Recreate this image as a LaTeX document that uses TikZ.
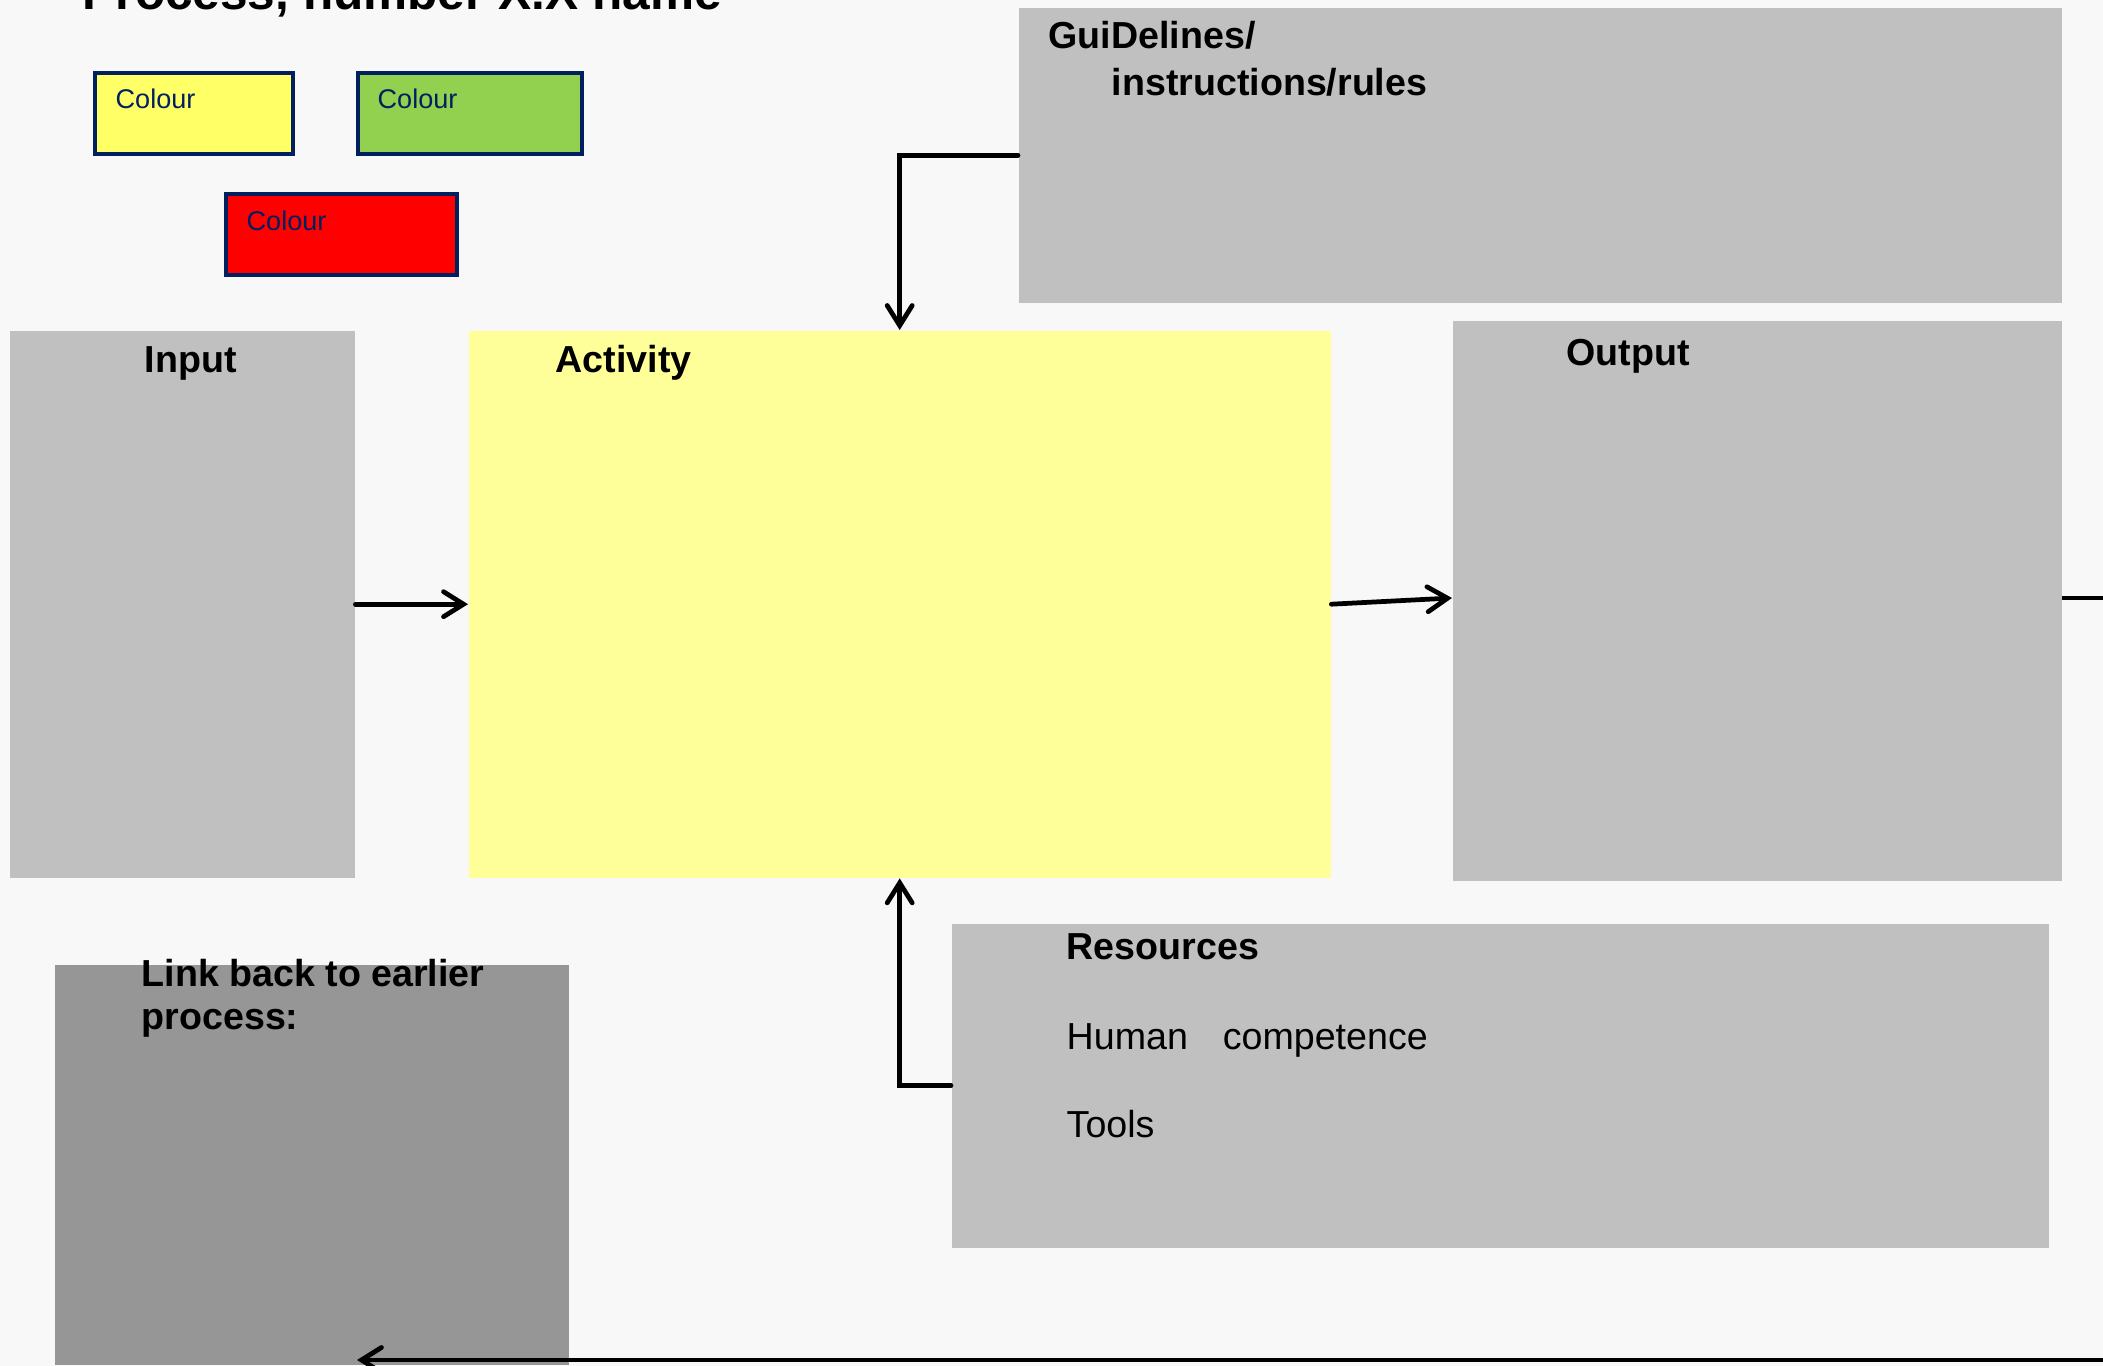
\documentclass[tikz,border=0pt]{standalone}
\usepackage{fontspec}
\setmainfont{Liberation Sans}
\usetikzlibrary{arrows.meta}

\definecolor{pagebg}{RGB}{248,248,248}
\definecolor{boxgray}{RGB}{192,192,192}
\definecolor{linkgray}{RGB}{150,150,150}
\definecolor{actyellow}{RGB}{255,255,153}
\definecolor{keyyellow}{RGB}{255,255,102}
\definecolor{keygreen}{RGB}{146,208,80}
\definecolor{keyred}{RGB}{255,0,0}
\definecolor{navy}{RGB}{0,32,96}

\begin{document}
\begin{tikzpicture}[
    box/.style={anchor=north west, inner sep=0pt, fill=boxgray},
    keybox/.style={anchor=north west, inner sep=0pt, draw=navy, line width=1.2pt, minimum width=#1, minimum height=0.81cm},
    lbl/.style={anchor=base west, inner sep=0pt, font=\fontsize{10.7}{12.8}\selectfont\bfseries},
    txt/.style={anchor=base west, inner sep=0pt, font=\fontsize{10.7}{12.8}\selectfont},
    keytxt/.style={anchor=base west, inner sep=0pt, text=navy, font=\fontsize{7.7}{9.2}\selectfont},
    flow/.style={line width=1.35pt, line cap=round, -{Straight Barb[length=2mm,width=2.5mm,line cap=round]}},
    link/.style={line width=1.35pt}]

    \useasboundingbox (0,0) rectangle (21.03,-13.66);
    \fill [pagebg] (0,0) rectangle (21.03,-13.66);

    \node[lbl, font=\fontsize{14.1}{16.9}\selectfont\bfseries] (title) at (0.82,-0.10) {Process, number X.X name};

    \node[keybox=1.98cm, fill=keyyellow] (keyyellow) at (0.93,-0.71) {};
    \node[keybox=2.24cm, fill=keygreen] (keygreen) at (3.56,-0.71) {};
    \node[keybox=2.31cm, fill=keyred] (keyred) at (2.24,-1.92) {};
    \node[keytxt] (keyyellowtxt) at (1.15,-1.09) {Colour};
    \node[keytxt] (keygreentxt) at (3.77,-1.09) {Colour};
    \node[keytxt] (keyredtxt) at (2.46,-2.31) {Colour};

    \node[box, minimum width=10.43cm, minimum height=2.95cm] (guide) at (10.18,-0.07) {};
    \node[box, minimum width=3.45cm, minimum height=5.47cm] (input) at (0.09,-3.30) {};
    \node[box, fill=actyellow, minimum width=8.62cm, minimum height=5.47cm] (activity) at (4.68,-3.30) {};
    \node[box, minimum width=6.09cm, minimum height=5.60cm] (output) at (14.52,-3.20) {};
    \node[box, minimum width=10.97cm, minimum height=3.24cm] (resources) at (9.51,-9.23) {};
    \node[box, fill=linkgray, minimum width=5.14cm, minimum height=4.0cm] (linkback) at (0.54,-9.64) {};

    \node[lbl] (guidelbl) at (10.48,-0.49) {GuiDelines/};
    \node[lbl] (guidelbltwo) at (11.11,-0.96) {instructions/rules};
    \node[lbl] (inputlbl) at (1.44,-3.73) {Input};
    \node[lbl] (activitylbl) at (5.55,-3.73) {Activity};
    \node[lbl] (outputlbl) at (15.66,-3.66) {Output};
    \node[lbl] (reslbl) at (10.66,-9.60) {Resources};
    \node[txt] (humanlbl) at (10.66,-10.50) {Human\hspace{0.35cm}competence};
    \node[txt] (toolslbl) at (10.66,-11.38) {Tools};
    \node[lbl] (linklbl) at (1.41,-9.87) {Link back to earlier};
    \node[lbl] (linklbltwo) at (1.41,-10.30) {process:};

    \coordinate (outfar) at (21.10,-5.98);
    \coordinate (loopstart) at (21.10,-13.60);
    \coordinate (loopend) at (3.57,-13.60);

    \draw[flow] (input) -- (activity);
    \draw[flow] (activity.east) -- (output.west |- outfar);
    \draw[link] (output.east |- outfar) -- (outfar);
    \draw[flow] (guide.west) -| (activity.north);
    \draw[flow] (resources.west) -| (activity.south);
    \draw[flow] (loopstart) -- (loopend);

\end{tikzpicture}
\end{document}
